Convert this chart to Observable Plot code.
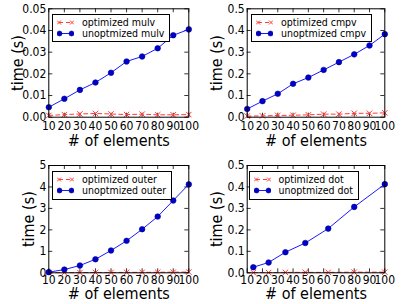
<!DOCTYPE html>
<html>
<head>
<meta charset="utf-8">
<script src="https://cdn.jsdelivr.net/npm/d3@7"></script>
<script src="https://cdn.jsdelivr.net/npm/@observablehq/plot@0.6"></script>
<style>
  html, body { margin: 0; padding: 0; background: white; }
  #root { position: relative; width: 405px; height: 304px; overflow: hidden; font-family: "DejaVu Sans", sans-serif; font-stretch: condensed; }
  .panel { position: absolute; }
  .legend { position: absolute; background: white; border: 1px solid #000; font-size: 10.5px; line-height: 11.3px; padding: 2px 5px 2px 4px; white-space: nowrap; font-stretch: condensed; }
  .legend .row { display: flex; align-items: center; }
  .legend svg { margin-right: 8px; }
</style>
</head>
<body>
<div id="root"></div>
<script>
// ---------- data ----------
const xTicks = [10, 20, 30, 40, 50, 60, 70, 80, 90, 100];
const elems = [10, 20, 30, 40, 50, 60, 70, 80, 90, 100];

const mulvOpt   = [0.0008, 0.0012, 0.0015, 0.0017, 0.0015, 0.0012, 0.0014, 0.0011, 0.0011, 0.0012];
const mulvUnopt = [0.0046, 0.0085, 0.0126, 0.0160, 0.0205, 0.0257, 0.0280, 0.0318, 0.0378, 0.0405];

const cmpvOpt   = [0.005, 0.006, 0.008, 0.009, 0.011, 0.014, 0.014, 0.018, 0.018, 0.020];
const cmpvUnopt = [0.038, 0.074, 0.108, 0.154, 0.183, 0.218, 0.254, 0.290, 0.331, 0.383];

const outerOpt   = [0.01, 0.01, 0.01, 0.015, 0.015, 0.02, 0.02, 0.025, 0.03, 0.035];
const outerUnopt = [0.03, 0.15, 0.34, 0.63, 1.04, 1.49, 2.03, 2.62, 3.37, 4.12];

const dotElems = [14, 24, 35, 48, 63, 80, 100];
const dotOpt   = [0.001, 0.001, 0.002, 0.002, 0.002, 0.003, 0.003];
const dotUnopt = [0.026, 0.048, 0.096, 0.139, 0.206, 0.307, 0.413];

const ticksSmall = [0, 0.01, 0.02, 0.03, 0.04, 0.05];
const ticksTenth = [0, 0.1, 0.2, 0.3, 0.4, 0.5];
const ticksUnit  = [0, 1, 2, 3, 4, 5];

const xLabel = "# of elements";
const yLabel = "time (s)";

// ---------- drawing ----------
const root = document.getElementById("root");
const BLUE_LINE = "#1a1aff", BLUE_DOT = "#0000cc", RED = "#ff3b3b";

function zip(xs, ys) { return xs.map((x, i) => ({x, y: ys[i]})); }

function panel(cfg) {
  const innerW = cfg.width - cfg.ml - cfg.mr;
  const innerH = cfg.height - cfg.mt - cfg.mb;
  const opt = zip(cfg.xs, cfg.opt), unopt = zip(cfg.xs, cfg.unopt);
  const svg = Plot.plot({
    width: cfg.width, height: cfg.height,
    marginLeft: cfg.ml, marginRight: cfg.mr, marginTop: cfg.mt, marginBottom: cfg.mb,
    style: {fontFamily: '"DejaVu Sans", sans-serif', fontStretch: "condensed", fontSize: "12px", color: "black", background: "transparent", overflow: "visible"},
    x: {domain: [10, 100], ticks: xTicks, tickSize: 0, tickPadding: cfg.xPad, tickFormat: d => String(d), label: null},
    y: {domain: cfg.yDomain, ticks: cfg.yTicks, tickSize: 0, tickPadding: 2.5, tickFormat: cfg.yFormat, label: null},
    marks: [
      Plot.tickX(xTicks, {x: d => d, insetTop: innerH - 4, stroke: "black", strokeWidth: 0.8}),
      Plot.tickX(xTicks, {x: d => d, insetBottom: innerH - 4, stroke: "black", strokeWidth: 0.8}),
      Plot.tickY(cfg.yTicks, {y: d => d, insetRight: innerW - 4, stroke: "black", strokeWidth: 0.8}),
      Plot.tickY(cfg.yTicks, {y: d => d, insetLeft: innerW - 4, stroke: "black", strokeWidth: 0.8}),
      Plot.line(opt, {x: "x", y: "y", stroke: RED, strokeWidth: 1, strokeDasharray: "4,3"}),
      Plot.dot(opt, {x: "x", y: "y", symbol: "times", r: 2.6, stroke: RED, strokeWidth: 1}),
      Plot.line(unopt, {x: "x", y: "y", stroke: BLUE_LINE, strokeWidth: 1}),
      Plot.dot(unopt, {x: "x", y: "y", r: 2.8, fill: BLUE_DOT, stroke: "#000090", strokeWidth: 0.6}),
      Plot.frame({stroke: "black", strokeWidth: 1}),
      Plot.text([xLabel], {frameAnchor: "bottom", lineAnchor: "middle", textAnchor: "middle", dy: cfg.xLabelDy, fontSize: 16}),
      Plot.text([yLabel], {frameAnchor: "left", lineAnchor: "middle", textAnchor: "middle", rotate: -90, dx: cfg.yLabelDx, fontSize: 16})
    ]
  });
  svg.classList.add("panel");
  svg.style.left = cfg.left + "px";
  svg.style.top = cfg.top + "px";
  root.appendChild(svg);

  // legend
  const lg = document.createElement("div");
  lg.className = "legend";
  lg.style.left = cfg.lgLeft + "px";
  lg.style.top = cfg.lgTop + "px";
  const rowHtml = (kind, text) => {
    let sample;
    if (kind === "opt") {
      sample = `<svg width="17" height="9"><line x1="2" y1="4.5" x2="15" y2="4.5" stroke="${RED}" stroke-dasharray="4,3"/>` +
        `<path d="M0,2.5L4,6.5M0,6.5L4,2.5M13,2.5L17,6.5M13,6.5L17,2.5" stroke="${RED}"/></svg>`;
    } else {
      sample = `<svg width="17" height="9"><line x1="2" y1="4.5" x2="15" y2="4.5" stroke="${BLUE_LINE}"/>` +
        `<circle cx="2.5" cy="4.5" r="2.5" fill="${BLUE_DOT}" stroke="#000090" stroke-width="0.6"/>` +
        `<circle cx="14.5" cy="4.5" r="2.5" fill="${BLUE_DOT}" stroke="#000090" stroke-width="0.6"/></svg>`;
    }
    return `<div class="row">${sample}<span>${text}</span></div>`;
  };
  lg.innerHTML = rowHtml("opt", cfg.names[0]) + rowHtml("unopt", cfg.names[1]);
  root.appendChild(lg);
}

panel({left: 0, top: 0, width: 200, height: 152, ml: 48.3, mr: 11.7, mt: 8.3, mb: 35.3,
  xs: elems, opt: mulvOpt, unopt: mulvUnopt, yDomain: [0, 0.05], yTicks: ticksSmall, yFormat: d3.format(".2f"),
  xPad: 4.5, xLabelDy: 23.5, yLabelDx: -31, lgLeft: 52, lgTop: 13.5,
  names: ["optimized mulv", "unoptmized mulv"]});

panel({left: 200, top: 0, width: 205, height: 152, ml: 46.7, mr: 20.7, mt: 8.3, mb: 35.3,
  xs: elems, opt: cmpvOpt, unopt: cmpvUnopt, yDomain: [0, 0.5], yTicks: ticksTenth, yFormat: d3.format(".1f"),
  xPad: 4.5, xLabelDy: 23.5, yLabelDx: -30, lgLeft: 251, lgTop: 13.5,
  names: ["optimized cmpv", "unoptmized cmpv"]});

panel({left: 0, top: 152, width: 200, height: 152, ml: 48.3, mr: 11.7, mt: 13, mb: 31.7,
  xs: elems, opt: outerOpt, unopt: outerUnopt, yDomain: [0, 5], yTicks: ticksUnit, yFormat: d3.format("d"),
  xPad: 2.5, xLabelDy: 21.5, yLabelDx: -20, lgLeft: 52, lgTop: 171,
  names: ["optimized outer", "unoptmized outer"]});

panel({left: 200, top: 152, width: 205, height: 152, ml: 46.7, mr: 20.7, mt: 13, mb: 31.7,
  xs: dotElems, opt: dotOpt, unopt: dotUnopt, yDomain: [0, 0.5], yTicks: ticksTenth, yFormat: d3.format(".1f"),
  xPad: 2.5, xLabelDy: 21.5, yLabelDx: -30, lgLeft: 248.5, lgTop: 171,
  names: ["optimized dot", "unoptmized dot"]});
</script>
</body>
</html>
